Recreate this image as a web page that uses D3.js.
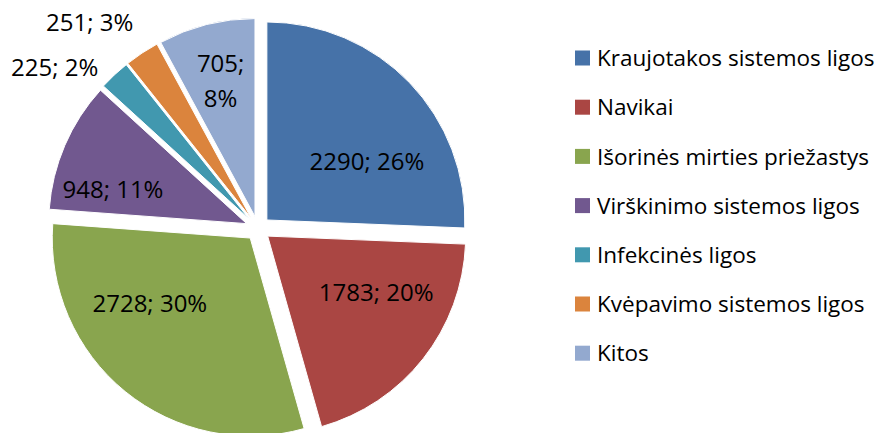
<!DOCTYPE html>
<html>
<head>
<meta charset="utf-8">
<script src="https://cdn.jsdelivr.net/npm/d3@7"></script>
<style>
  body { margin: 0; background: #fff; }
  text { font-family: "Open Sans", sans-serif; fill: #000; }
</style>
</head>
<body>
<div class="layout"></div>
<script>
// data
const categories = ["Kraujotakos sistemos ligos", "Navikai", "Išorinės mirties priežastys",
  "Virškinimo sistemos ligos", "Infekcinės ligos", "Kvėpavimo sistemos ligos", "Kitos"]
const deaths = [2290, 1783, 2728, 948, 225, 251, 705]
const shares = ["26%", "20%", "30%", "11%", "2%", "3%", "8%"]
const colors = ["#4672A8", "#AA4643", "#89A54E", "#71588F", "#4198AF", "#DB843D", "#93A9CF"]

// label layout: angle shift (deg) from slice middle, distance from slice tip
const labelShift = [13.5, -11, 17.6, -9, -9, -6, 0]
const labelDist = [116, 122, 120, 138, 247, 254, 140]

const width = 878
const height = 433
const radius = 198
const explode = 12.3
const cx = 258
const cy = 228.5

const svg = d3.select("div.layout")
  .append("svg")
  .attr("width", width)
  .attr("height", height)

const pie = d3.pie()
  .sort(null)
  .value(function (d) { return d })

const arcs = pie(deaths)

const arc = d3.arc()
  .innerRadius(0)
  .outerRadius(radius)

function midAngle(d) {
  return (d.startAngle + d.endAngle) / 2
}

const pieGroup = svg.append("g")
  .attr("transform", "translate(" + cx + "," + cy + ")")

// slices, each pushed out a bit along its middle
const slices = pieGroup.selectAll("g.slice")
  .data(arcs)
  .enter()
  .append("g")
  .attr("class", "slice")
  .attr("transform", function (d) {
    const a = midAngle(d)
    return "translate(" + (Math.sin(a) * explode) + "," + (-Math.cos(a) * explode) + ")"
  })

slices.append("path")
  .attr("d", arc)
  .attr("fill", function (d, i) { return colors[i] })
  .attr("stroke", "#fff")
  .attr("stroke-width", 1)

// data labels
slices.append("text")
  .attr("text-anchor", "middle")
  .style("font-size", "24px")
  .attr("transform", function (d, i) {
    const a = midAngle(d) + labelShift[i] * Math.PI / 180
    return "translate(" + (Math.sin(a) * labelDist[i]) + "," + (-Math.cos(a) * labelDist[i]) + ")"
  })
  .each(function (d, i) {
    const narrow = (d.endAngle - d.startAngle) < 0.55 && labelDist[i] < radius
    const lines = narrow ? [deaths[i] + ";", shares[i]] : [deaths[i] + "; " + shares[i]]
    const t = d3.select(this)
    lines.forEach(function (line, k) {
      t.append("tspan")
        .attr("x", 0)
        .attr("y", (k - (lines.length - 1) / 2) * 35)
        .attr("dy", "0.36em")
        .text(line)
    })
  })

// legend
const legend = svg.selectAll("g.legend")
  .data(categories)
  .enter()
  .append("g")
  .attr("class", "legend")
  .attr("transform", function (d, i) {
    return "translate(575," + (58 + i * 49.2) + ")"
  })

legend.append("rect")
  .attr("x", 0)
  .attr("y", -7.5)
  .attr("width", 15)
  .attr("height", 15)
  .attr("fill", function (d, i) { return colors[i] })

legend.append("text")
  .attr("x", 22)
  .attr("dy", "0.36em")
  .style("font-size", "22.5px")
  .text(function (d) { return d })
</script>
</body>
</html>
